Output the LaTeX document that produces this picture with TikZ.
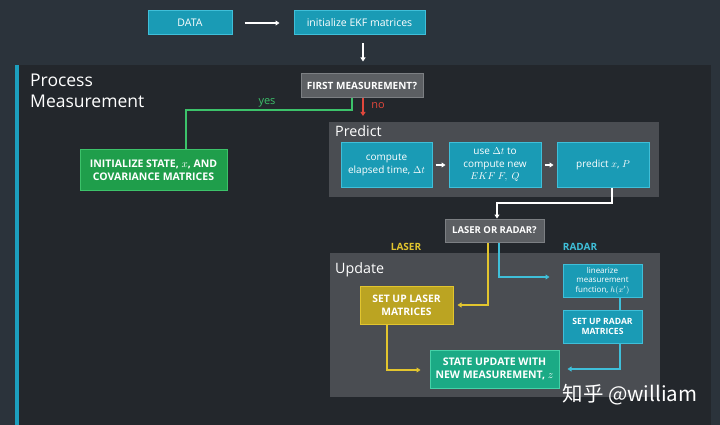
\documentclass[tikz,border=0pt]{standalone}
\usepackage{fontspec}
\setmainfont{Open Sans}
\newfontfamily\cjkfont{Noto Sans CJK SC}
\usetikzlibrary{arrows.meta}

\definecolor{bgtop}{HTML}{2B333B}
\definecolor{bgpanel}{HTML}{23272C}
\definecolor{accent}{HTML}{1C9FBE}
\definecolor{subpanel}{HTML}{4A4D52}
\definecolor{cyanfill}{HTML}{1A9BB5}
\definecolor{cyanline}{HTML}{3FBFD9}
\definecolor{grayfill}{HTML}{5C5F63}
\definecolor{grayline}{HTML}{7C7F83}
\definecolor{greenfill}{HTML}{1F9E4B}
\definecolor{greenline}{HTML}{3CC26A}
\definecolor{yellowfill}{HTML}{BBA422}
\definecolor{yellowline}{HTML}{E2C52E}
\definecolor{tealfill}{HTML}{1BAA85}
\definecolor{tealline}{HTML}{45D2A8}
\definecolor{noline}{HTML}{E0473C}

\begin{document}
\begin{tikzpicture}[x=1pt, y=-1pt,
                        box/.style={draw, line width=1pt, text=white, align=center, inner sep=1pt,
                                    font=\fontsize{10}{12.5}\selectfont},
                        capbox/.style={box, font=\bfseries\fontsize{10}{13}\selectfont},
                        cyanbox/.style={box, fill=cyanfill, draw=cyanline},
                        graybox/.style={capbox, fill=grayfill, draw=grayline},
                        greenbox/.style={capbox, fill=greenfill, draw=greenline},
                        yellowbox/.style={capbox, fill=yellowfill, draw=yellowline},
                        tealbox/.style={capbox, fill=tealfill, draw=tealline},
                        tip/.style={-{Triangle[length=4pt,width=5pt]}},
                        flow/.style={draw=white, line width=1.3pt, tip},
                        yesline/.style={draw=greenline, line width=1.3pt},
                        noarrow/.style={draw=noline, line width=1.3pt, tip},
                        laserline/.style={draw=yellowline, line width=1.3pt, tip},
                        radarline/.style={draw=cyanline, line width=1.3pt},
                        title/.style={text=white, inner sep=0pt, anchor=base west}]

                        % Backgrounds
                        \useasboundingbox (0,0) rectangle (720,425);
                        \fill[bgtop] (0,0) rectangle (720,425);
                        \fill[bgpanel] (15,65) rectangle (711,425);
                        \fill[accent] (15,65) rectangle (19,425);
                        \fill[subpanel] (329,122) rectangle (659,197); % Predict
                        \fill[subpanel] (330,253) rectangle (660,397); % Update

                        % Titles
                        \node[title, font=\fontsize{17.5}{21}\selectfont] (process) at (30,87) {Process};
                        \node[title, font=\fontsize{17.5}{21}\selectfont] (measurement) at (30,108) {Measurement};
                        \node[title, font=\fontsize{14.3}{17}\selectfont] (predicttitle) at (335,137) {Predict};
                        \node[title, font=\fontsize{14.3}{17}\selectfont] (updatetitle) at (335,273) {Update};

                        % Define nodes
                        \node[cyanbox, minimum width=84, minimum height=24, font=\fontsize{10.5}{12}\selectfont] (data) at (190,23) {DATA};
                        \node[cyanbox, minimum width=131, minimum height=24, font=\fontsize{10.5}{12}\selectfont] (init) at (359.5,23) {initialize EKF matrices};
                        \node[graybox, minimum width=122, minimum height=24] (first) at (362,86) {FIRST MEASUREMENT?};
                        \node[greenbox, font=\bfseries\fontsize{10.5}{13}\selectfont, minimum width=147, minimum height=40] (initstate) at (153.5,170) {INITIALIZE STATE, $x$, AND\\COVARIANCE MATRICES};
                        \node[cyanbox, minimum width=91, minimum height=44] (elapsed) at (386.5,165) {compute\\elapsed time, $\Delta t$};
                        \node[cyanbox, minimum width=92, minimum height=44] (newfq) at (495,165) {use $\Delta t$ to\\compute new\\$EKF\ F,\ Q$};
                        \node[cyanbox, minimum width=92, minimum height=44] (predict) at (603,165) {predict $x$, $P$};
                        \node[graybox, minimum width=99, minimum height=23, font=\bfseries\fontsize{9.5}{12}\selectfont] (lor) at (494.5,230.5) {LASER OR RADAR?};
                        \node[yellowbox, minimum width=93, minimum height=38, font=\bfseries\fontsize{10.3}{13}\selectfont] (setlaser) at (406.5,305) {SET UP LASER\\MATRICES};
                        \node[cyanbox, minimum width=79, minimum height=33, font=\fontsize{8}{9.5}\selectfont] (linearize) at (602.5,280.5) {linearize\\measurement\\function, $h(x')$};
                        \node[cyanbox, minimum width=79, minimum height=33, font=\bfseries\fontsize{8.6}{10.5}\selectfont] (setradar) at (602.5,326.5) {SET UP RADAR\\MATRICES};
                        \node[tealbox, minimum width=129, minimum height=38, font=\bfseries\fontsize{10.5}{12.5}\selectfont] (stateupd) at (494.5,369) {STATE UPDATE WITH\\NEW MEASUREMENT, $z$};

                        % Labels
                        \node[text=greenline, font=\fontsize{11}{12}\selectfont] (yeslabel) at (267,103) {yes};
                        \node[text=noline, font=\fontsize{11}{12}\selectfont] (nolabel) at (378,106) {no};
                        \node[text=yellowline, font=\bfseries\fontsize{10}{12}\selectfont] (laserlabel) at (406,247) {LASER};
                        \node[text=cyanline, font=\bfseries\fontsize{10}{12}\selectfont] (radarlabel) at (580,247) {RADAR};
                        \node[text=white, font=\cjkfont\fontsize{20.5}{24}\selectfont] (mark) at (630,395) {知乎 @william};

                        % Define edges
                        \coordinate (noend) at (363,116);
                        \coordinate (yesbend) at (186,110);
                        \coordinate (lorbend) at (497,203);
                        \draw[flow] ([xshift=12pt]data.east) -- ([xshift=-14pt]init.west);
                        \draw[flow] ([xshift=3.5pt,yshift=-8pt]init.south) -- ([xshift=1pt,yshift=12pt]first.north);
                        \draw[noarrow] (first.south -| noend) -- (noend);
                        \draw[yesline] ([xshift=-10pt]first.south) |- (yesbend) -- (yesbend |- initstate.north);
                        \draw[flow] ([xshift=3pt]elapsed.east) -- ([xshift=-3pt]newfq.west);
                        \draw[flow] ([xshift=3pt]newfq.east) -- ([xshift=-3pt]predict.west);
                        \draw[flow] ([xshift=9pt]predict.south) |- (lorbend) -- (lorbend |- lor.north);
                        \draw[laserline, shorten >=4pt] ([xshift=-6.5pt]lor.south) |- (setlaser.east);
                        \draw[laserline, shorten >=9pt] ([xshift=-19.5pt]setlaser.south) |- ([yshift=-1pt]stateupd.west);
                        \draw[radarline, tip, shorten >=13pt] ([xshift=4.5pt]lor.south) |- ([yshift=3.5pt]linearize.west);
                        \draw[radarline] ([xshift=17.5pt]linearize.south) -- ([xshift=17.5pt]setradar.north);
                        \draw[radarline, tip, shorten >=8pt] ([xshift=17.5pt]setradar.south) |- (stateupd.east);
                        \end{tikzpicture}
\end{document}
